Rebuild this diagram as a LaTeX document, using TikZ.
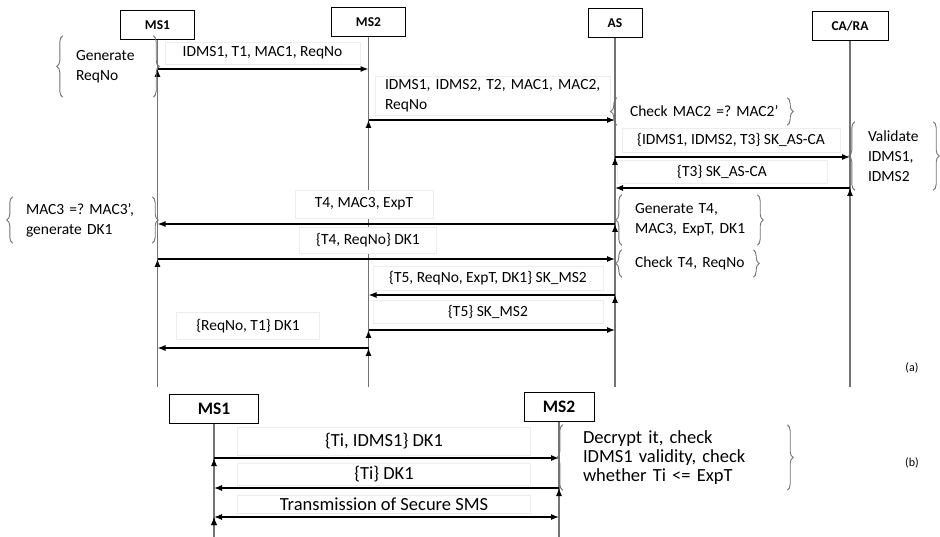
\documentclass[tikz,border=0pt]{standalone}
\usepackage{fontspec}
\setmainfont{Carlito}
\usetikzlibrary{arrows.meta,decorations.pathreplacing}

\newcommand{\boxfontA}{\fontsize{13.5}{16}\selectfont\bfseries}
\newcommand{\boxfontB}{\fontsize{17.5}{20}\selectfont\bfseries}
\newcommand{\textfontA}{\fontsize{15.5}{20}\selectfont}
\newcommand{\textfontB}{\fontsize{18.5}{19}\selectfont}
\frenchspacing
\hyphenpenalty=10000
\exhyphenpenalty=10000
\hfuzz=50pt

\tikzset{
    actor/.style={shape=rectangle,draw=black,line width=1pt,fill=white,minimum height=29pt,inner sep=0pt},
    lifeline/.style={draw=black!55,line width=1.4pt},
    msg/.style={draw=black,line width=1.1pt,-{Latex[length=8pt,width=6pt]}},
    msglabel/.style={shape=rectangle,fill=white,draw=black!7,inner sep=0pt,font=\textfontA},
    note/.style={shape=rectangle,align=left,inner xsep=13pt,inner ysep=0pt,font=\textfontA},
    notebrace/.style={draw=black!55,line width=0.9pt,decorate,decoration={brace,amplitude=6pt}}
}

\begin{document}
\begin{tikzpicture}[x=1pt,y=-1pt]
    \useasboundingbox (0,0) rectangle (940,537);

    % (a) registration
    \coordinate (end a) at (0,387);
    \draw[lifeline] (157.5,39) -- (157.5,387);
    \node[actor,minimum width=74pt,font=\boxfontA] (MS1) at (157.5,25) {MS1};
    \node[actor,minimum width=74pt,font=\boxfontA] (MS2) at (368.5,22.5) {MS2};
    \node[actor,minimum width=54pt,font=\boxfontA] (AS) at (615,23) {AS};
    \node[actor,minimum width=76pt,font=\boxfontA] (CARA) at (850,26) {CA/RA};
    \draw[lifeline] (MS2.south) -- (MS2.south |- end a);
    \draw[lifeline] (AS.south) -- (AS.south |- end a);
    \draw[lifeline] (CARA.south) -- (CARA.south |- end a);

    \coordinate (row1) at (0,69);
    \coordinate (row2) at (0,120);
    \coordinate (row3) at (0,157);
    \coordinate (row4) at (0,188);
    \coordinate (row5) at (0,224);
    \coordinate (row6) at (0,259);
    \coordinate (row7) at (0,295);
    \coordinate (row8) at (0,330);
    \coordinate (row9) at (0,348);

    \node[msglabel,minimum width=195pt,minimum height=22pt] (IDMS1 T1) at (262.5,53) {IDMS1, T1, MAC1, ReqNo};
    \node[msglabel,align=left,text width=215pt,inner xsep=10pt,minimum height=39pt] (IDMS1 IDMS2 T2) at (492.5,96) {\mbox{IDMS1, IDMS2, T2, MAC1, MAC2,}\\ReqNo};
    \node[msglabel,minimum width=218pt,minimum height=24pt] (SK AS-CA T3) at (731,140) {\{IDMS1, IDMS2, T3\} SK\_AS-CA};
    \node[msglabel,minimum width=210pt,minimum height=23pt] (T3 SK AS-CA) at (722,172) {\{T3\} SK\_AS-CA};
    \node[msglabel,minimum width=138pt,minimum height=28pt] (T4 MAC3) at (364,204) {T4, MAC3, ExpT};
    \node[msglabel,minimum width=137pt,minimum height=26pt] (T4 ReqNo) at (368,240) {\{T4, ReqNo\} DK1};
    \node[msglabel,minimum width=230pt,minimum height=24pt] (T5 SK MS2) at (488,278) {\{T5, ReqNo, ExpT, DK1\} SK\_MS2};
    \node[msglabel,minimum width=230pt,minimum height=23pt] (T5 only) at (488,312) {\{T5\} SK\_MS2};
    \node[msglabel,minimum width=143pt,minimum height=27pt] (ReqNo T1) at (248,326) {\{ReqNo, T1\} DK1};

    \node[note,text width=64pt,minimum height=61pt] (Generate ReqNo) at (108,66.5) {Generate\\ReqNo};
    \node[note,text width=144pt,minimum height=27pt] (Check MAC2) at (702,111.5) {\mbox{Check MAC2 =? MAC2'}};
    \node[note,text width=52pt,minimum height=68pt] (Validate IDMS) at (894,156) {Validate\\IDMS1,\\IDMS2};
    \node[note,text width=113pt,minimum height=46pt] (Check MAC3) at (82.5,220) {\mbox{MAC3 =? MAC3',}\\\mbox{generate DK1}};
    \node[note,text width=109pt,minimum height=50pt] (Generate T4) at (689.5,220) {\mbox{Generate T4,}\\\mbox{MAC3, ExpT, DK1}};
    \node[note,text width=105pt,minimum height=27pt] (Check T4) at (687.5,263.5) {\mbox{Check T4, ReqNo}};

    \path [msg] (MS1 |- row1) edge (MS2 |- row1);
    \path [msg] (MS2 |- row2) edge (AS |- row2);
    \path [msg] (AS |- row3) edge (CARA |- row3);
    \path [msg] (CARA |- row4) edge (AS |- row4);
    \path [msg] (AS |- row5) edge (MS1 |- row5);
    \path [msg] (MS1 |- row6) edge (AS |- row6);
    \path [msg] (AS |- row7) edge (MS2 |- row7);
    \path [msg] (MS2 |- row8) edge (AS |- row8);
    \path [msg] (MS2 |- row9) edge (MS1 |- row9);

    \node[font=\fontsize{12}{14}\selectfont] (caption a) at (912,368) {(a)};

    % (b) secure SMS
    \coordinate (end b) at (0,537);
    \node[actor,minimum width=89pt,font=\boxfontB] (MS1b) at (214,408.5) {MS1};
    \node[actor,minimum width=70pt,font=\boxfontB] (MS2b) at (559,406.5) {MS2};
    \draw[lifeline] (MS1b.south) -- (MS1b.south |- end b);
    \draw[lifeline] (MS2b.south) -- (MS2b.south |- end b);

    \coordinate (rowb1) at (0,458);
    \coordinate (rowb2) at (0,488);
    \coordinate (rowb3) at (0,517);

    \node[msglabel,font=\textfontB,minimum width=293pt,minimum height=28pt] (Ti IDMS1) at (384,441) {\{Ti, IDMS1\} DK1};
    \node[msglabel,font=\textfontB,minimum width=293pt,minimum height=22pt] (Ti DK1) at (384,474) {\{Ti\} DK1};
    \node[msglabel,font=\textfontB,minimum width=293pt,minimum height=18pt] (Secure SMS) at (384,504) {Transmission of Secure SMS};
    \node[note,font=\textfontB,inner xsep=20pt,text width=184pt,minimum height=65pt] (Decrypt) at (675,457.5) {\mbox{Decrypt it, check}\\\mbox{IDMS1 validity, check}\\\mbox{whether Ti <= ExpT}};

    \path [msg] (MS1b |- rowb1) edge (MS2b |- rowb1);
    \path [msg] (MS2b |- rowb2) edge (MS1b |- rowb2);
    \path [msg,{Latex[length=8pt,width=6pt]}-{Latex[length=8pt,width=6pt]}] (MS1b |- rowb3) edge (MS2b |- rowb3);

    \node[font=\fontsize{12}{14}\selectfont] (caption b) at (912,463) {(b)};

    % braces round the notes
    \foreach \n in {Generate ReqNo,Check MAC2,Validate IDMS,Check MAC3,Generate T4,Check T4,Decrypt} {
        \draw[notebrace] (\n.south west) -- (\n.north west);
        \draw[notebrace] (\n.north east) -- (\n.south east);
    }
\end{tikzpicture}
\end{document}
